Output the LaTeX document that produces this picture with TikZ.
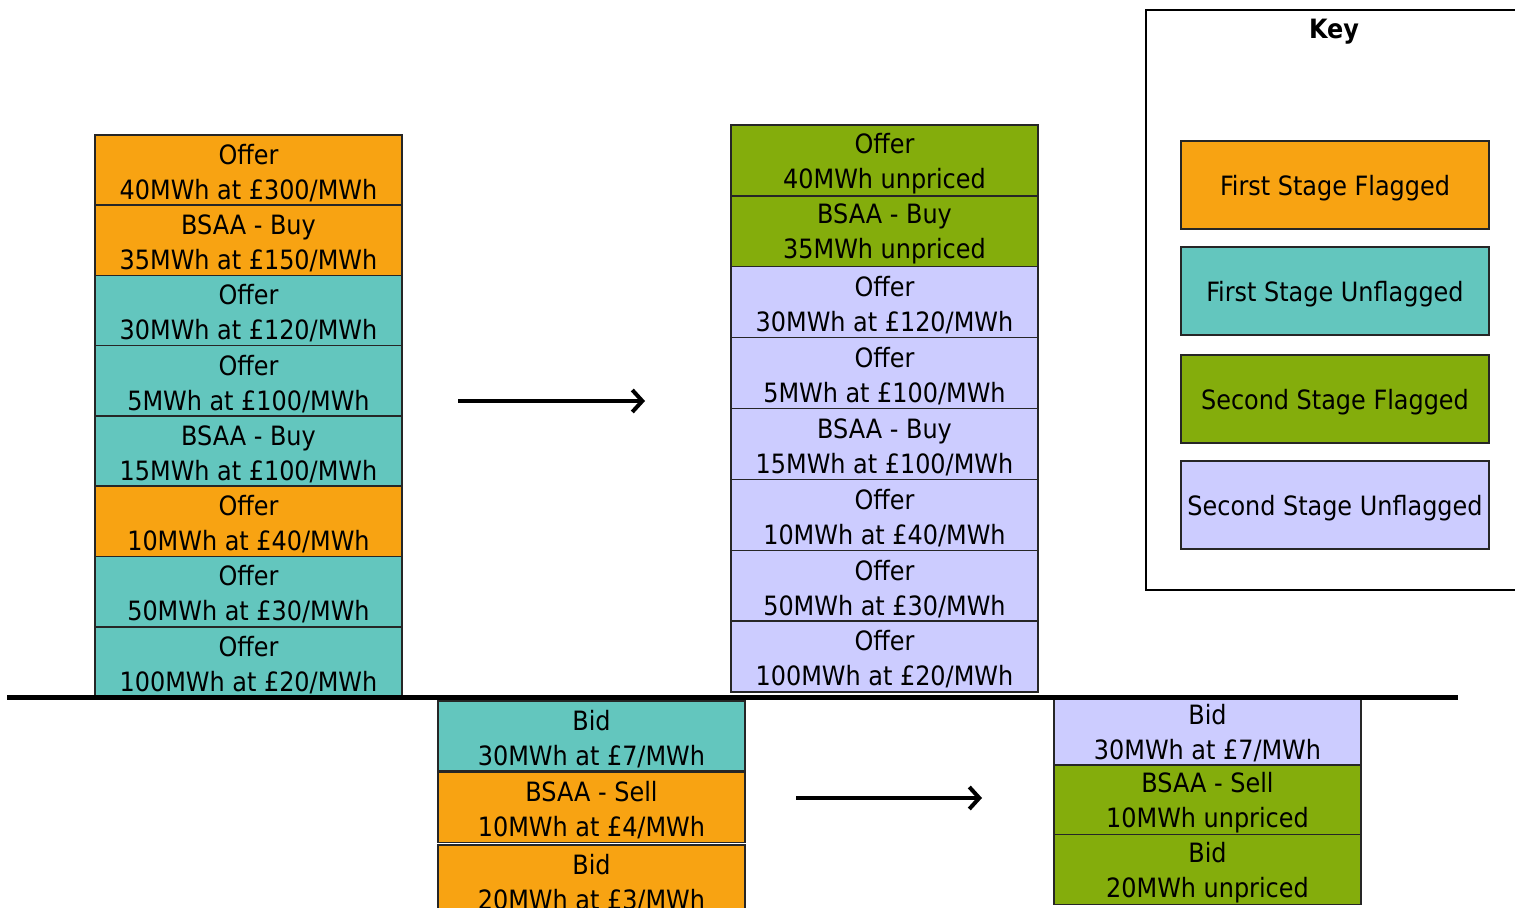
\documentclass[tikz,border=0pt]{standalone}
\usepackage{fontspec}
\setmainfont{DejaVu Sans Condensed}
\usetikzlibrary{arrows.meta}
\definecolor{orng}{RGB}{248,163,18}
\definecolor{teal1}{RGB}{99,198,190}
\definecolor{grn}{RGB}{132,173,12}
\definecolor{lav}{RGB}{204,204,255}
\tikzset{
  blk/.style={draw=black!85, line width=0.7pt, rectangle, inner sep=0pt,
    minimum width=153.5pt},
  blkL/.style={blk, minimum height=35.1pt},
  blkM/.style={blk, minimum height=35.45pt},
  blkB/.style={blk, minimum height=35pt},
  keyblk/.style={blk, minimum width=154pt, minimum height=44pt},
  txt/.style={inner sep=0pt, align=center, font=\fontsize{13.3}{17.5}\selectfont},
  flow/.style={line width=2pt, -{Straight Barb[length=5pt,width=11pt,line width=2pt]}},
}
% #1 style, #2 fill, #3 name, #4 position, #5 text
\newcommand\mkblk[5]{%
  \node[#1,fill=#2] (#3) at (#4) {};
  \node[txt] (#3t) at ([yshift=-1.5pt]#3.center) {#5};}
\begin{document}
\begin{tikzpicture}[x=0.5pt,y=-0.5pt]
\useasboundingbox (0,0) rectangle (1515,908);
% left column
\mkblk{blkL}{orng}{l1}{248.5,170.1}{Offer\\40MWh at £300/MWh}
\mkblk{blkL}{orng}{l2}{248.5,240.4}{BSAA - Buy\\35MWh at £150/MWh}
\mkblk{blkL}{teal1}{l3}{248.5,310.6}{Offer\\30MWh at £120/MWh}
\mkblk{blkL}{teal1}{l4}{248.5,380.9}{Offer\\5MWh at £100/MWh}
\mkblk{blkL}{teal1}{l5}{248.5,451.1}{BSAA - Buy\\15MWh at £100/MWh}
\mkblk{blkL}{orng}{l6}{248.5,521.4}{Offer\\10MWh at £40/MWh}
\mkblk{blkL}{teal1}{l7}{248.5,591.6}{Offer\\50MWh at £30/MWh}
\mkblk{blkL}{teal1}{l8}{248.5,661.9}{Offer\\100MWh at £20/MWh}
% middle column
\mkblk{blkM}{grn}{m1}{884.5,160.4}{Offer\\40MWh unpriced}
\mkblk{blkM}{grn}{m2}{884.5,231.3}{BSAA - Buy\\35MWh unpriced}
\mkblk{blkM}{lav}{m3}{884.5,302.2}{Offer\\30MWh at £120/MWh}
\mkblk{blkM}{lav}{m4}{884.5,373.1}{Offer\\5MWh at £100/MWh}
\mkblk{blkM}{lav}{m5}{884.5,444.0}{BSAA - Buy\\15MWh at £100/MWh}
\mkblk{blkM}{lav}{m6}{884.5,514.9}{Offer\\10MWh at £40/MWh}
\mkblk{blkM}{lav}{m7}{884.5,585.8}{Offer\\50MWh at £30/MWh}
\mkblk{blkM}{lav}{m8}{884.5,656.6}{Offer\\100MWh at £20/MWh}
% bottom left
\mkblk{blkB}{teal1}{b1}{591.5,736}{Bid\\30MWh at £7/MWh}
\mkblk{blkB}{orng}{b2}{591.5,807.5}{BSAA - Sell\\10MWh at £4/MWh}
\mkblk{blkB}{orng}{b3}{591.5,880}{Bid\\20MWh at £3/MWh}
% bottom right
\mkblk{blkB}{lav}{r1}{1207.5,730.5}{Bid\\30MWh at £7/MWh}
\mkblk{blkB}{grn}{r2}{1207.5,800}{BSAA - Sell\\10MWh unpriced}
\mkblk{blkB}{grn}{r3}{1207.5,869.5}{Bid\\20MWh unpriced}
% divider
\coordinate (hl) at (7,697);
\coordinate (hr) at (1458,697);
\draw[line width=2.5pt] (hl) -- (hr);
% arrows
\coordinate (a1s) at (458,401);
\coordinate (a1e) at (645,401);
\coordinate (a2s) at (796,798);
\coordinate (a2e) at (982,798);
\draw[flow] (a1s) -- (a1e);
\draw[flow] (a2s) -- (a2e);
% key
\draw[line width=1.2pt] (1146,10) rectangle (1530,590);
\node[font=\bfseries\fontsize{13.3}{16}\selectfont] (keyt) at (1334,32) {Key};
\mkblk{keyblk}{orng}{k1}{1335,185}{First Stage Flagged}
\mkblk{keyblk}{teal1}{k2}{1335,291}{First Stage Unflagged}
\mkblk{keyblk}{grn}{k3}{1335,399}{Second Stage Flagged}
\mkblk{keyblk}{lav}{k4}{1335,505}{Second Stage Unflagged}
\end{tikzpicture}
\end{document}
